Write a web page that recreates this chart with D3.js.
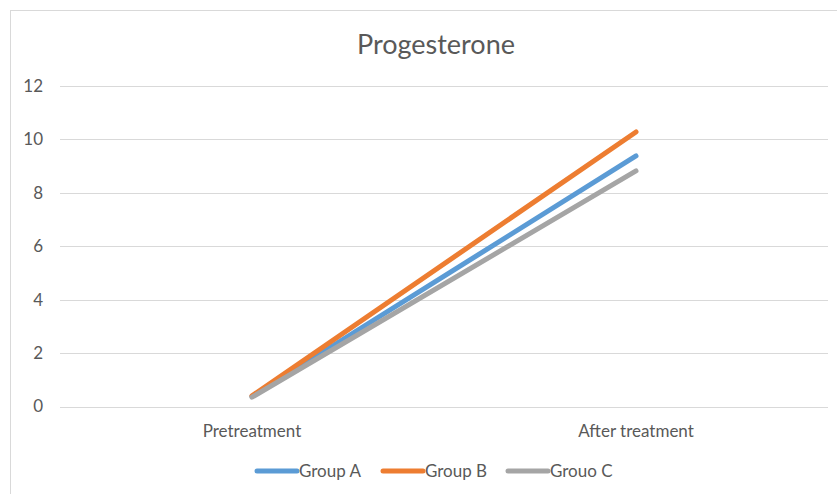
<!DOCTYPE html>
<html>
<head>
<meta charset="utf-8">
<script src="https://cdn.jsdelivr.net/npm/d3@7"></script>
<style>
  html, body { margin: 0; padding: 0; background: #fff; }
  svg { display: block; font-family: Lato, "Open Sans", sans-serif; }
</style>
</head>
<body>
<svg id="chart" width="837" height="494"></svg>
<script>
// Progesterone levels before and after treatment, per group
const categories = ["Pretreatment", "After treatment"];
const seriesNames = ["Group A", "Group B", "Grouo C"];
const groupA = [0.38, 9.38];
const groupB = [0.40, 10.28];
const groupC = [0.35, 8.82];
const yTicks = [0, 2, 4, 6, 8, 10, 12];
const colors = ["#5B9BD5", "#ED7D31", "#A5A5A5"];

const series = [groupA, groupB, groupC].map((vals, i) => ({
  name: seriesNames[i],
  color: colors[i],
  values: vals.map((v, j) => ({ cat: categories[j], v }))
}));

const svg = d3.select("#chart");
const W = 837, H = 494;
const plot = { left: 60, right: 828, top: 86, bottom: 406.5 };
const font = "Lato, 'Open Sans', sans-serif";
const textColor = "#595959";

// Chart area outline (extends beyond the right and bottom edges)
svg.append("rect")
  .attr("x", 10.5).attr("y", 10.5)
  .attr("width", W + 20).attr("height", H + 20)
  .attr("fill", "#fff")
  .attr("stroke", "#d9d9d9").attr("stroke-width", 1);

const x = d3.scaleBand().domain(categories).range([plot.left, plot.right]);
const y = d3.scaleLinear().domain([0, 12]).range([plot.bottom, plot.top]);

// Horizontal gridlines
svg.append("g")
  .selectAll("line")
  .data(yTicks)
  .join("line")
  .attr("x1", plot.left).attr("x2", plot.right)
  .attr("y1", d => Math.round(y(d)) + 0.5).attr("y2", d => Math.round(y(d)) + 0.5)
  .attr("stroke", "#d9d9d9").attr("stroke-width", 1);

// Y axis labels
const yAxis = d3.axisLeft(y).tickValues(yTicks).tickSize(0).tickPadding(0);
svg.append("g")
  .attr("transform", `translate(${43},0)`)
  .call(yAxis)
  .call(g => g.select(".domain").remove())
  .call(g => g.selectAll("text")
    .attr("fill", textColor)
    .attr("font-size", 17)
    .attr("font-family", font));

// X axis category labels
const xAxis = d3.axisBottom(x).tickSize(0).tickPadding(0);
svg.append("g")
  .attr("transform", `translate(0,${plot.bottom + 18})`)
  .call(xAxis)
  .call(g => g.select(".domain").remove())
  .call(g => g.selectAll("text")
    .attr("fill", textColor)
    .attr("font-size", 17)
    .attr("font-family", font));

// Series lines
const line = d3.line()
  .x(d => x(d.cat) + x.bandwidth() / 2)
  .y(d => y(d.v));

svg.append("g")
  .selectAll("path")
  .data(series)
  .join("path")
  .attr("d", d => line(d.values))
  .attr("fill", "none")
  .attr("stroke", d => d.color)
  .attr("stroke-width", 5)
  .attr("stroke-linecap", "round")
  .attr("stroke-linejoin", "round");

// Title
svg.append("text")
  .attr("x", 436).attr("y", 54)
  .attr("text-anchor", "middle")
  .attr("fill", textColor)
  .attr("font-size", 27)
  .attr("font-family", font)
  .text("Progesterone");

// Legend
const legendX = [255, 381, 506];
const lg = svg.append("g")
  .selectAll("g")
  .data(series)
  .join("g")
  .attr("transform", (d, i) => `translate(${legendX[i]},471)`);
lg.append("line")
  .attr("x1", 2).attr("x2", 42)
  .attr("stroke", d => d.color)
  .attr("stroke-width", 5)
  .attr("stroke-linecap", "round");
lg.append("text")
  .attr("x", 44).attr("y", 0)
  .attr("dy", "0.35em")
  .attr("fill", textColor)
  .attr("font-size", 17)
  .attr("font-family", font)
  .text(d => d.name);
</script>
</body>
</html>
